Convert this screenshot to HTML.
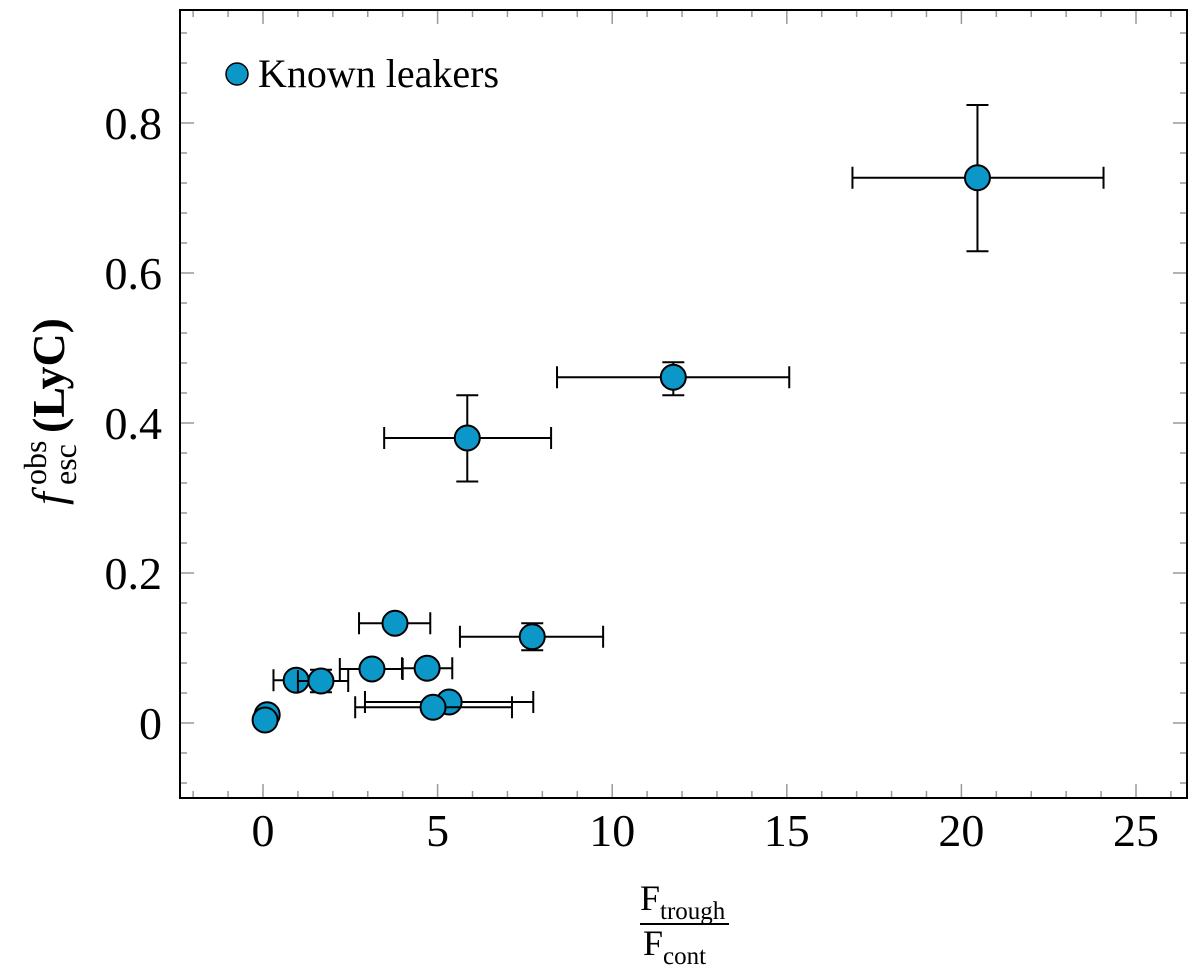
<!DOCTYPE html>
<html><head><meta charset="utf-8"><style>
html,body{margin:0;padding:0;background:#fff;}
svg{display:block;font-family:"Liberation Serif",serif;}
</style></head><body>
<svg id="chart" width="1200" height="970" viewBox="0 0 1200 970" xmlns="http://www.w3.org/2000/svg">
<g id="ticks"></g>
<g id="labels"></g>
<g id="marks"></g>
<rect x="180" y="10" width="1007" height="788" fill="none" stroke="#000" stroke-width="2"/>
<g>
<circle cx="237" cy="74" r="11" fill="#0b98c9" stroke="#000" stroke-width="1.5"/>
<text x="258" y="87" font-size="40">Known leakers</text>
</g>
<g transform="translate(50,405) rotate(-90)">
<text x="-100" y="14" font-size="46" font-style="italic">f</text>
<text x="-80" y="-4" font-size="32">obs</text>
<text x="-80" y="26" font-size="32">esc</text>
<text x="-28" y="14" font-size="46" font-weight="bold">(LyC)</text>
</g>
<g>
<text x="640" y="910" font-size="36">F<tspan font-size="25" dy="9">trough</tspan></text>
<line x1="640" y1="924" x2="729" y2="924" stroke="#000" stroke-width="2"/>
<text x="643" y="955" font-size="36">F<tspan font-size="25" dy="9">cont</tspan></text>
</g>
</svg>
<script>
const xVals=[3.78,7.71,3.12,4.70,0.95,1.66,5.33,4.87,0.12,0.06,5.85,11.75,20.46];
const yVals=[0.133,0.115,0.072,0.073,0.057,0.056,0.028,0.021,0.011,0.004,0.38,0.461,0.727];
const xLo=[2.75,5.64,2.20,3.98,0.30,1.00,2.92,2.64,null,null,3.47,8.42,16.88];
const xHi=[4.79,9.74,4.00,5.42,1.60,2.44,7.74,7.13,null,null,8.25,15.07,24.07];
const yLo=[0.126,0.097,null,0.066,null,0.041,null,null,null,null,0.322,0.437,0.629];
const yHi=[0.140,0.133,null,0.080,null,0.071,null,null,null,null,0.437,0.481,0.824];
const xTicks=[0,5,10,15,20,25];
const yTicks=[0,0.2,0.4,0.6,0.8];
const yTickLabels=["0","0.2","0.4","0.6","0.8"];
const L=180,R=1187,T=10,B=798;
const X=v=>263+v*34.92;
const Y=v=>723-v*750;
const NS="http://www.w3.org/2000/svg";
function mk(tag,attrs,parent){const e=document.createElementNS(NS,tag);for(const k in attrs)e.setAttribute(k,attrs[k]);parent.appendChild(e);return e;}
const tg=document.getElementById('ticks'),lg=document.getElementById('labels'),mg=document.getElementById('marks');
for(let v=-2;v<=26;v++){const x=X(v);if(x<L||x>R)continue;const maj=v%5===0;const len=maj?14:7;
 let t=mk('line',{x1:x,y1:B,x2:x,y2:B-len,stroke:'#999','stroke-width':1.5},tg);
 t=mk('line',{x1:x,y1:T,x2:x,y2:T+len,stroke:'#999','stroke-width':1.5},tg);}
for(let i=-3;i<=23;i++){const v=i*0.04;const y=Y(v);if(y<T||y>B)continue;const maj=i%5===0;const len=maj?14:7;
 let t=mk('line',{x1:L,y1:y,x2:L+len,y2:y,stroke:'#999','stroke-width':1.5},tg);
 t=mk('line',{x1:R,y1:y,x2:R-len,y2:y,stroke:'#999','stroke-width':1.5},tg);}
xTicks.forEach(v=>{const t=mk('text',{x:X(v),y:846,'text-anchor':'middle','font-size':46},lg);t.textContent=v;
 });
yTicks.forEach((v,i)=>{const t=mk('text',{x:162,y:Y(v)+16,'text-anchor':'end','font-size':46},lg);t.textContent=yTickLabels[i];
 });
xVals.forEach((xv,i)=>{const g=mk('g',{},mg);
 const cx=X(xv),cy=Y(yVals[i]);
 if(xLo[i]!==null){const a=X(xLo[i]),b=X(xHi[i]);
  mk('line',{x1:a,y1:cy,x2:b,y2:cy,stroke:'#000','stroke-width':2},g);
  mk('line',{x1:a,y1:cy-11,x2:a,y2:cy+11,stroke:'#000','stroke-width':2},g);
  mk('line',{x1:b,y1:cy-11,x2:b,y2:cy+11,stroke:'#000','stroke-width':2},g);}
 if(yLo[i]!==null){const a=Y(yLo[i]),b=Y(yHi[i]);
  mk('line',{x1:cx,y1:a,x2:cx,y2:b,stroke:'#000','stroke-width':2},g);
  mk('line',{x1:cx-11,y1:a,x2:cx+11,y2:a,stroke:'#000','stroke-width':2},g);
  mk('line',{x1:cx-11,y1:b,x2:cx+11,y2:b,stroke:'#000','stroke-width':2},g);}
 mk('circle',{cx:cx,cy:cy,r:12.5,fill:'#0b98c9',stroke:'#000','stroke-width':2},g);
});
</script>
</body></html>
